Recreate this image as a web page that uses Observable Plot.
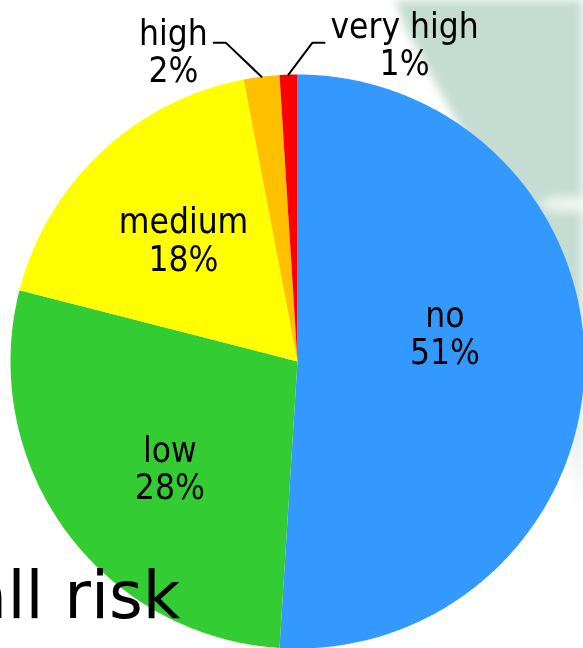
<!DOCTYPE html>
<html>
<head>
<meta charset="utf-8">
<script src="https://cdn.jsdelivr.net/npm/d3@7"></script>
<script src="https://cdn.jsdelivr.net/npm/@observablehq/plot@0.6"></script>
<style>
  body { margin: 0; background: #fff; }
  #wrap { position: relative; width: 583px; height: 648px; overflow: hidden; background: #fff; }
  #bgblur { position: absolute; left: 0; top: 0; width: 583px; height: 648px; filter: blur(5px); }
  #blob { position: absolute; left: 0; top: 0; width: 583px; height: 648px; background: #c5dcd2;
    clip-path: polygon(392px -10px, 600px -10px, 600px 520px, 578px 500px, 548px 300px, 485px 178px, 455px 118px, 428px 70px, 404px 25px); }
  #fade { position: absolute; left: 0; top: 0; width: 583px; height: 648px;
    background: linear-gradient(to bottom, rgba(255,255,255,0) 0px, rgba(255,255,255,0) 300px, rgba(255,255,255,0.6) 450px, rgba(255,255,255,1) 520px); }
  #streak { position: absolute; left: 540px; top: 196px; width: 60px; height: 16px; background: #f4f9f6; border-radius: 50%; opacity: 0.85; }
  #chart { position: absolute; left: 0; top: 0; }
  #chart text.title { font-family: "DejaVu Sans", sans-serif; }
</style>
</head>
<body>
<div id="wrap">
  <div id="bgblur"><div id="blob"></div><div id="fade"></div><div id="streak"></div></div>
  <div id="chart"></div>
</div>
<script>
const categories = ["no", "low", "medium", "high", "very high"];
const shares = [51, 28, 18, 2, 1];
const colors = ["#3399ff", "#33cc33", "#ffff00", "#ffc000", "#ff0000"];
const title = "Overall risk";

const W = 583, H = 648, cx = 297, cy = 361, R = 287;
const FONT = '"DejaVu Sans Condensed", "DejaVu Sans", sans-serif';
const TITLE_FONT = "DejaVu Sans";
const FS = 35;

const arcs = d3.pie().sort(null).value(d => d)(shares);

// slice outlines (unit circle coordinates, y up)
const slicePts = [];
arcs.forEach((a, i) => {
  const cat = categories[i];
  slicePts.push({cat, x: 0, y: 0});
  const n = Math.max(2, Math.ceil((a.endAngle - a.startAngle) / (Math.PI / 360)));
  for (let k = 0; k <= n; k++) {
    const t = a.startAngle + (a.endAngle - a.startAngle) * k / n;
    slicePts.push({cat, x: Math.sin(t), y: Math.cos(t)});
  }
  slicePts.push({cat, x: 0, y: 0});
});

const ctx = document.createElement("canvas").getContext("2d");
ctx.font = `${FS}px ${FONT}`;

// label placement tweaks (pixels), mimicking the original layout
const nudge = {no: [-19, -33], low: [7, 9]};

const insideLabels = [], outsideLabels = [], leaderPts = [];
const small = arcs.map((a, i) => i).filter(i => shares[i] < 5);
arcs.forEach((a, i) => {
  const m = (a.startAngle + a.endAngle) / 2;
  const cat = categories[i];
  const text = `${cat}\n${shares[i]}%`;
  if (shares[i] >= 5) {
    const r = 0.58;
    const [nx, ny] = nudge[cat] || [0, 0];
    insideLabels.push({x: r * Math.sin(m) + nx / R, y: r * Math.cos(m) - ny / R, text});
  } else {
    const side = i === small[small.length - 1] ? 1 : -1;
    const ex = Math.sin(m), ey = Math.cos(m);
    const elY = 1.111;
    const elX = ex + side * (elY - ey) * (side < 0 ? 1.05 : 0.75);
    const endX = elX + side * 12 / R;
    leaderPts.push({cat, x: ex, y: ey}, {cat, x: elX, y: elY}, {cat, x: endX, y: elY});
    const wMax = Math.max(ctx.measureText(cat).width, ctx.measureText(`${shares[i]}%`).width);
    const tx = endX + side * (6 + wMax / 2) / R;
    const ty = elY - (side < 0 ? 9 : 2) / R;
    outsideLabels.push({x: tx, y: ty, text});
  }
});

const plot = Plot.plot({
  width: W, height: H, margin: 0,
  x: {domain: [-1, 1], range: [cx - R, cx + R], axis: null},
  y: {domain: [-1, 1], range: [cy + R, cy - R], axis: null},
  color: {domain: categories, range: colors},
  style: {background: "transparent", fontFamily: FONT, overflow: "visible"},
  marks: [
    Plot.line(slicePts, {x: "x", y: "y", z: "cat", fill: "cat", stroke: "none", curve: "linear"}),
    Plot.line(leaderPts, {x: "x", y: "y", z: "cat", stroke: "black", strokeWidth: 2, fill: "none"}),
    Plot.text(insideLabels, {x: "x", y: "y", text: "text", fontSize: FS, lineHeight: 1.07, fill: "black"}),
    Plot.text(outsideLabels, {x: "x", y: "y", text: "text", fontSize: FS, lineHeight: 1.07, fill: "black"}),
    Plot.text([title], {frameAnchor: "bottom-left", dx: 180, dy: -31, textAnchor: "end", lineAnchor: "bottom", fontSize: 65, fontFamily: TITLE_FONT, fill: "black", className: "title"})
  ]
});
document.getElementById("chart").appendChild(plot);
</script>
</body>
</html>
